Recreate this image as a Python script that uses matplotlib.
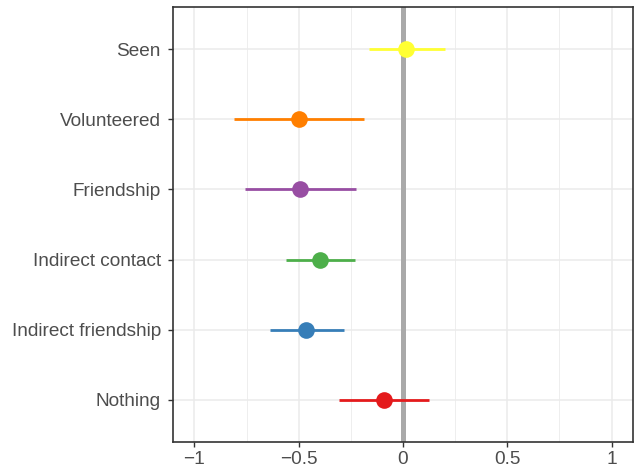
import matplotlib
matplotlib.use("Agg")
import matplotlib.pyplot as plt
from matplotlib.ticker import FixedLocator

# estimates with lower / upper interval bounds, bottom row first
labels = ["Nothing", "Indirect friendship", "Indirect contact",
          "Friendship", "Volunteered", "Seen"]
estimate = [-0.092, -0.466, -0.399, -0.494, -0.499, 0.016]
lower = [-0.306, -0.638, -0.563, -0.759, -0.809, -0.163]
upper = [0.124, -0.285, -0.231, -0.223, -0.188, 0.200]
colors = ["#E41A1C", "#377EB8", "#4DAF4A", "#984EA3", "#FF7F00", "#FFFF33"]

plt.rcParams['font.family'] = ['Liberation Sans', 'DejaVu Sans']

fig = plt.figure(figsize=(6.35, 4.75), dpi=100)
ax = fig.add_axes([0.2732, 0.0701, 0.9961 - 0.2732, 0.9846 - 0.0701])

ax.set_xlim(-1.1, 1.1)
ax.set_ylim(0.4, 6.6)

# grid, ggplot-style
ax.xaxis.set_major_locator(FixedLocator([-1, -0.5, 0, 0.5, 1]))
ax.xaxis.set_minor_locator(FixedLocator([-0.75, -0.25, 0.25, 0.75]))
ax.grid(which="major", color="#EBEBEB", linewidth=1.1, zorder=0)
ax.grid(which="minor", axis="x", color="#EBEBEB", linewidth=0.6, zorder=0)
ax.set_axisbelow(True)

ax.axvline(0, color="#A9A9A9", linewidth=3.6, zorder=1)

ypos = list(range(1, len(labels) + 1))
for y, est, lo, hi, c in zip(ypos, estimate, lower, upper, colors):
    ax.plot([lo, hi], [y, y], color=c, linewidth=2.0, solid_capstyle="butt", zorder=2)
    ax.plot(est, y, "o", color=c, markersize=12, markeredgewidth=0, zorder=3)

ax.set_yticks(ypos)
ax.set_yticklabels(labels)
ax.set_xticklabels(["\u22121", "\u22120.5", "0", "0.5", "1"])

ax.tick_params(which="major", length=3.6, width=1.0, color="#333333",
               labelsize=13.7, labelcolor="#4D4D4D")
ax.tick_params(axis="y", pad=5.5)
ax.tick_params(axis="x", pad=3.0)
ax.tick_params(which="minor", length=0)

for s in ax.spines.values():
    s.set_color("#333333")
    s.set_linewidth(1.2)

fig.savefig("out.png", dpi=100)
